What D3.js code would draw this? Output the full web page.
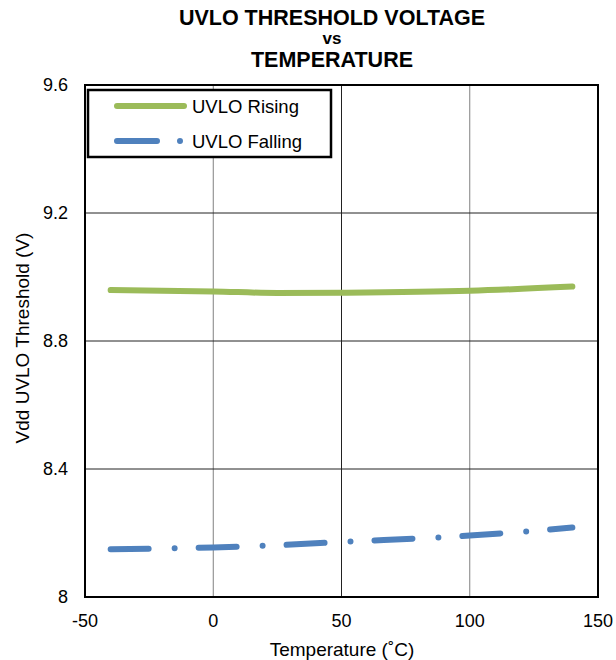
<!DOCTYPE html>
<html>
<head>
<meta charset="utf-8">
<script src="https://cdn.jsdelivr.net/npm/d3@7"></script>
<style>
  body { margin: 0; background: #fff; }
  text { font-family: "Liberation Sans", Arial, sans-serif; }
</style>
</head>
<body>
<div id="chart"></div>
<script>
var temps = [-40, 0, 25, 50, 100, 140];
var uvloRising = [8.959, 8.955, 8.950, 8.951, 8.957, 8.970];
var uvloFalling = [8.149, 8.155, 8.162, 8.172, 8.192, 8.217];
var xTicks = [-50, 0, 50, 100, 150];
var yTicks = [8, 8.4, 8.8, 9.2, 9.6];
var seriesNames = ["UVLO Rising", "UVLO Falling"];
var seriesColors = ["#9bbb59", "#4f81bd"];

var width = 616, height = 660;
var pLeft = 85, pRight = 598, pTop = 85, pBottom = 597;

var svg = d3.select("#chart").append("svg")
  .attr("width", width)
  .attr("height", height);

var x = d3.scaleLinear().domain([-50, 150]).range([pLeft, pRight]);
var y = d3.scaleLinear().domain([8, 9.6]).range([pBottom, pTop]);

// grid
svg.append("g").selectAll("line")
  .data(xTicks.slice(1, -1))
  .enter().append("line")
  .attr("x1", d => x(d)).attr("x2", d => x(d))
  .attr("y1", pTop).attr("y2", pBottom)
  .attr("stroke", d => d == 50 ? "#222" : "#808080")
  .attr("stroke-width", 1);

svg.append("g").selectAll("line")
  .data(yTicks.slice(1, -1))
  .enter().append("line")
  .attr("x1", pLeft).attr("x2", pRight)
  .attr("y1", d => y(d)).attr("y2", d => y(d))
  .attr("stroke", "#222")
  .attr("stroke-width", 1);

// tick labels
svg.append("g").selectAll("text")
  .data(xTicks)
  .enter().append("text")
  .attr("x", d => x(d))
  .attr("y", 627)
  .attr("text-anchor", "middle")
  .attr("font-size", 18)
  .text(d => d);

svg.append("g").selectAll("text")
  .data(yTicks)
  .enter().append("text")
  .attr("x", 68)
  .attr("y", d => y(d) + 6)
  .attr("text-anchor", "end")
  .attr("font-size", 18)
  .text(d => d == 8 ? "8" : d3.format(".1f")(d));

// lines
var line = d3.line()
  .x((d, i) => x(temps[i]))
  .y(d => y(d))
  .curve(d3.curveMonotoneX);

svg.append("path")
  .datum(uvloRising)
  .attr("d", line)
  .attr("fill", "none")
  .attr("stroke", seriesColors[0])
  .attr("stroke-width", 6)
  .attr("stroke-linecap", "round");

svg.append("path")
  .datum(uvloFalling)
  .attr("d", line)
  .attr("fill", "none")
  .attr("stroke", seriesColors[1])
  .attr("stroke-width", 6)
  .attr("stroke-linecap", "round")
  .attr("stroke-dasharray", "38,26,0,24");

// plot border
svg.append("rect")
  .attr("x", pLeft).attr("y", pTop)
  .attr("width", pRight - pLeft).attr("height", pBottom - pTop)
  .attr("fill", "none")
  .attr("stroke", "#000")
  .attr("stroke-width", 2);

// legend
var lg = svg.append("g");
lg.append("rect")
  .attr("x", 88).attr("y", 90)
  .attr("width", 243).attr("height", 67)
  .attr("fill", "#fff")
  .attr("stroke", "#000")
  .attr("stroke-width", 2.5);

var items = lg.selectAll("g.item")
  .data(seriesNames)
  .enter().append("g")
  .attr("class", "item")
  .attr("transform", (d, i) => "translate(0," + (106 + i * 35) + ")");

items.append("line")
  .attr("x1", 117).attr("x2", (d, i) => i == 0 ? 184 : 245)
  .attr("y1", 0).attr("y2", 0)
  .attr("stroke", (d, i) => seriesColors[i])
  .attr("stroke-width", 6)
  .attr("stroke-linecap", "round")
  .attr("stroke-dasharray", (d, i) => i == 0 ? null : "40,23,0,200");

items.append("text")
  .attr("x", 192)
  .attr("y", 7)
  .attr("font-size", 18.5)
  .text(d => d);

// titles
svg.append("text")
  .attr("x", 332).attr("y", 25)
  .attr("text-anchor", "middle")
  .attr("font-size", 21.5).attr("font-weight", "bold")
  .text("UVLO THRESHOLD VOLTAGE");
svg.append("text")
  .attr("x", 332).attr("y", 44)
  .attr("text-anchor", "middle")
  .attr("font-size", 17).attr("font-weight", "bold")
  .text("vs");
svg.append("text")
  .attr("x", 332).attr("y", 67)
  .attr("text-anchor", "middle")
  .attr("font-size", 21.5).attr("font-weight", "bold")
  .text("TEMPERATURE");

svg.append("text")
  .attr("x", 342).attr("y", 656)
  .attr("text-anchor", "middle")
  .attr("font-size", 19)
  .text("Temperature (˚C)");

svg.append("text")
  .attr("transform", "translate(29,338) rotate(-90)")
  .attr("text-anchor", "middle")
  .attr("font-size", 19)
  .text("Vdd UVLO Threshold (V)");
</script>
</body>
</html>
